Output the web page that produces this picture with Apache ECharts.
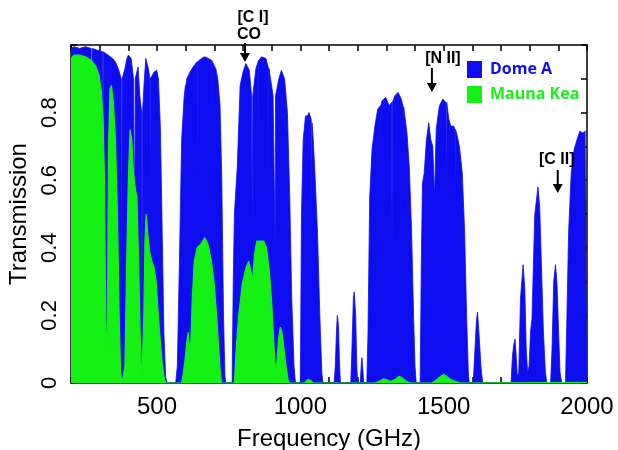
<!DOCTYPE html>
<html><head><meta charset="utf-8">
<script src="https://cdn.jsdelivr.net/npm/echarts@6/dist/echarts.min.js"></script>
<style>html,body{margin:0;padding:0;background:#fff}#c{width:618px;height:450px}</style>
</head><body><div id="c"></div>
<script>
// ---- Data ----
const freqDomeA = [200,210,230,250,270,272.3,273,273.7,290,310,311.3,312,312.7,330,345,355,365,375.5,377,378.5,388,395,400,410,418,422,423,424,428,434,440,446.5,448,449.5,456,461,470,475.3,476,476.7,480,490,499,505,512,518,524,530,535,
565,571,578,586,595,599.3,600,600.7,604,615,626,639.3,640,640.7,655,666,680,689.3,690,690.7,696,705,712,720,726,732,737,740,
762,766,770,780,790,800,810,822,830,832,834,845,854.3,855,855.7,865,880,889.3,890,890.7,895,905,910.5,912,913.5,918,925,934,945,955,963,970,978,983,
1000,1004,1010,1018,1025,1030,1038,1039.3,1040,1040.7,1045,1052,1060,1068,1075,1079,
1118,1122,1126,1129,1133,1137,1140,
1176,1180,1185,1188,1193,1197,1200,
1209,1213,1215,1218,1221,
1232,1236,1242,1250,1260,1270,1279.3,1280,1280.7,1285,1298,1310,1318,1319.3,1320,1320.7,1330,1341,1352,1359.3,1360,1360.7,1362,1372,1380,1388,1395,1400,1404,
1418,1422,1426,1432,1440,1448,1455,1462,1468,1474,1485,1497,1508,1509.3,1510,1510.7,1518,1525,1535,1539.3,1540,1540.7,1545,1555,1565,1573,1580,1586,1589,
1603,1608,1614,1618,1623,1630,1636,
1735,1740,1744,1749,1753,1757,1762,1768,1777,1783,1788,1793,1798,1803,1808,1813,1818,1829,1835,1841,1848,1855,1860,
1873,1878,1884,1890,1895,1901,1906,1912,
1925,1930,1936,1945,1955,1965,1975,1985,1995,2000];
const transDomeA = [0.99,0.995,0.99,0.995,0.99,0.99,0.5,0.99,0.985,0.98,0.98,0.4,0.98,0.97,0.96,0.95,0.93,0.9,0.05,0.9,0.93,0.96,0.97,0.96,0.9,0.9,0.4,0.9,0.9,0.935,0.85,0.8,0.05,0.8,0.9,0.96,0.93,0.9,0.5,0.9,0.9,0.92,0.925,0.9,0.75,0.45,0.15,0.02,0,
0,0.05,0.35,0.72,0.85,0.88,0.5,0.88,0.9,0.92,0.935,0.95,0.6,0.95,0.96,0.965,0.96,0.955,0.55,0.955,0.955,0.93,0.9,0.82,0.6,0.2,0.02,0,
0,0.3,0.5,0.64,0.88,0.92,0.945,0.925,0.85,0.45,0.85,0.93,0.955,0.6,0.955,0.965,0.96,0.93,0.5,0.93,0.93,0.85,0.85,0.4,0.85,0.85,0.9,0.925,0.9,0.8,0.55,0.25,0.05,0,
0,0.5,0.72,0.79,0.79,0.8,0.78,0.78,0.5,0.77,0.72,0.6,0.44,0.2,0.03,0,
0,0.05,0.15,0.2,0.17,0.05,0,
0,0.1,0.25,0.27,0.2,0.05,0,
0,0.06,0.075,0.04,0,
0,0.15,0.55,0.69,0.76,0.81,0.82,0.5,0.82,0.835,0.845,0.82,0.83,0.83,0.4,0.83,0.85,0.86,0.84,0.815,0.5,0.815,0.81,0.74,0.64,0.45,0.2,0.05,0,
0,0.35,0.59,0.62,0.72,0.77,0.72,0.7,0.55,0.75,0.82,0.84,0.83,0.83,0.5,0.83,0.78,0.76,0.76,0.75,0.55,0.75,0.74,0.7,0.62,0.45,0.2,0.03,0,
0,0.08,0.18,0.21,0.15,0.05,0,
0,0.08,0.11,0.13,0.08,0.02,0.03,0.25,0.35,0.28,0.1,0.03,0.05,0.15,0.19,0.35,0.5,0.58,0.52,0.35,0.15,0.03,0,
0,0.1,0.3,0.35,0.3,0.15,0.03,0,
0,0.2,0.45,0.62,0.69,0.72,0.745,0.74,0.745,0.74];

const freqMaunaKea = [200,210,230,250,270,285,298,306,312,317,321,324,327,331,336,341,348,355,362,368,373,378,383,388,394,400,406,412,418,425,430,436,442,447,450,454,458,462,468,474,482,490,497,503,510,518,526,532,
586,592,598,604,609,614,618,623,630,640,652,667,678,690,700,708,714,720,725,
770,776,785,797,810,820,828,833,840,848,860,872,882,892,900,907,913,918,924,930,936,943,950,957,962,
1015,1025,1035,1045,1260,1275,1290,1300,1315,1330,1345,1355,1370,1385,1460,1475,1490,1500,1510,1525,1540,1560,2000];
const transMaunaKea = [0.96,0.97,0.97,0.965,0.955,0.94,0.91,0.86,0.78,0.6,0.2,0.02,0.2,0.7,0.87,0.88,0.83,0.72,0.5,0.2,0.03,0,0,0.05,0.35,0.6,0.75,0.72,0.62,0.57,0.55,0.35,0.12,0,0,0.2,0.42,0.5,0.44,0.39,0.36,0.34,0.3,0.22,0.14,0.06,0.01,0,
0,0.03,0.07,0.12,0.15,0.1,0.12,0.25,0.36,0.4,0.41,0.43,0.41,0.36,0.29,0.2,0.12,0.04,0,
0,0.1,0.2,0.29,0.34,0.36,0.33,0.3,0.38,0.42,0.42,0.42,0.4,0.33,0.24,0.13,0.04,0.06,0.13,0.165,0.15,0.1,0.05,0.01,0,
0,0.01,0.008,0,0,0.005,0.012,0.01,0.005,0.01,0.02,0.015,0.005,0,0,0.01,0.02,0.025,0.02,0.01,0.005,0,0.002];

const seriesNames = ['Dome A', 'Mauna Kea'];
const xTickLabels = [500, 1000, 1500, 2000];
const yTickLabels = [0, 0.2, 0.4, 0.6, 0.8];
const lineFreqs = [807, 1459, 1898];
const lineLabels = [['[C I]', 'CO'], ['[N II]'], ['[C II]']];

// ---- Styling ----
const BLUE = '#0d0df0';
const GREEN = '#15f015';
const FONT = 'Liberation Sans';

const domeA = freqDomeA.map((f, i) => [f, transDomeA[i]]);
const maunaKea = freqMaunaKea.map((f, i) => [f, transMaunaKea[i]]);

const axisLineStyle = {color: '#000', width: 1.5};
const tick = {show: true, inside: true, length: 6, lineStyle: {color: '#000', width: 1.5}};
const near = (a, b) => Math.abs(a - b) < 1e-6;

const chart = echarts.init(document.getElementById('c'));
chart.setOption({
  animation: false,
  backgroundColor: '#fff',
  grid: {left: 71, top: 45, width: 516, height: 338, containLabel: false, outerBoundsMode: 'none'},
  legend: {
    left: 462, top: 56, orient: 'vertical', itemWidth: 15, itemHeight: 17, itemGap: 8,
    icon: 'rect',
    textStyle: {fontFamily: 'Open Sans', fontWeight: 700, fontSize: 16, padding: [0, 0, 0, 3]},
    data: [
      {name: seriesNames[0], textStyle: {color: BLUE}},
      {name: seriesNames[1], textStyle: {color: GREEN}}
    ]
  },
  xAxis: [{
    type: 'value', min: 200, max: 2000, interval: 100, position: 'bottom',
    axisLine: {show: true, onZero: false, lineStyle: axisLineStyle},
    axisTick: tick,
    splitLine: {show: false},
    axisLabel: {
      formatter: v => xTickLabels.some(t => near(t, v)) ? String(v) : '',
      fontFamily: FONT, fontSize: 24, color: '#000', margin: 12
    },
    name: 'Frequency (GHz)', nameLocation: 'middle', nameGap: 44,
    nameTextStyle: {fontFamily: FONT, fontSize: 24, color: '#000'}
  }, {
    type: 'value', min: 200, max: 2000, interval: 100, position: 'top',
    axisLine: {show: true, onZero: false, lineStyle: axisLineStyle},
    axisTick: tick, splitLine: {show: false}, axisLabel: {show: false}
  }],
  yAxis: [{
    type: 'value', min: 0, max: 1, interval: 0.1, position: 'left',
    axisLine: {show: true, onZero: false, lineStyle: axisLineStyle},
    axisTick: tick,
    splitLine: {show: false},
    axisLabel: {
      rotate: 90,
      formatter: v => yTickLabels.some(t => near(t, v)) ? String(Math.round(v * 10) / 10) : '',
      fontFamily: FONT, fontSize: 22, color: '#000', margin: 10
    },
    name: 'Transmission', nameLocation: 'middle', nameGap: 33,
    nameTextStyle: {fontFamily: FONT, fontSize: 24, color: '#000'}
  }, {
    type: 'value', min: 0, max: 1, interval: 0.1, position: 'right',
    axisLine: {show: true, onZero: false, lineStyle: axisLineStyle},
    axisTick: tick, splitLine: {show: false}, axisLabel: {show: false}
  }],
  series: [{
    name: seriesNames[0], type: 'line', data: domeA, symbol: 'none', showSymbol: false,
    lineStyle: {color: BLUE, width: 0.8}, itemStyle: {color: BLUE},
    areaStyle: {color: BLUE, opacity: 1}, z: 2, silent: true
  }, {
    name: seriesNames[1], type: 'line', data: maunaKea, symbol: 'none', showSymbol: false,
    lineStyle: {color: GREEN, width: 1.2}, itemStyle: {color: GREEN},
    areaStyle: {color: GREEN, opacity: 1}, z: 3, silent: true
  }]
});

// ---- Line annotations (arrows), positioned from the x scale ----
const textOffsets = [[[8, 18], [4, 35]], [[11, 59]], [[-1, 160]]];
const arrowY = [[43, 62], [68, 92], [170, 193]];
const graphics = [];
lineFreqs.forEach((f, i) => {
  const x = chart.convertToPixel({xAxisIndex: 0}, f);
  const [y0, y1] = arrowY[i];
  graphics.push({type: 'line', shape: {x1: x, y1: y0, x2: x, y2: y1 - 6}, style: {stroke: '#000', lineWidth: 2}, z: 20});
  graphics.push({type: 'polygon', shape: {points: [[x - 5, y1 - 9], [x + 5, y1 - 9], [x, y1]]}, style: {fill: '#000'}, z: 20});
  lineLabels[i].forEach((t, j) => {
    const [dx, yy] = textOffsets[i][j];
    graphics.push({type: 'text', x: x + dx, y: yy, z: 20,
      style: {text: t, fill: '#000', font: 'bold 16px "Liberation Sans"', textAlign: 'center', textVerticalAlign: 'middle'}});
  });
});
chart.setOption({graphic: graphics});
</script>
</body></html>
